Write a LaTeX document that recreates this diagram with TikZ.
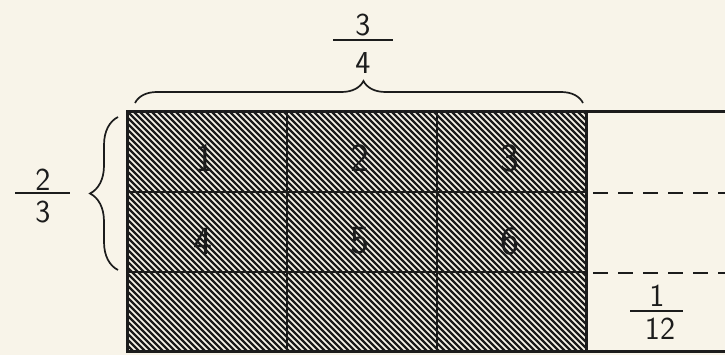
\documentclass[tikz,border=0pt]{standalone}
\usetikzlibrary{decorations.pathreplacing,positioning}
\definecolor{paper}{RGB}{248,244,233}
\definecolor{ink}{RGB}{28,28,28}
\tikzset{
  frame/.style={line width=3pt,ink},
  gridline/.style={line width=1.5pt,ink},
  hatch/.style={line width=2.2pt,ink},
  cutline/.style={line width=2pt,ink,dash pattern=on 15pt off 10pt},
  fracbar/.style={line width=2pt,ink},
  bracket/.style={decorate,line width=1.7pt,ink},
  cellnum/.style={font=\sffamily\fontsize{40}{44}\selectfont,text=ink,inner sep=0pt},
  fraclab/.style={font=\sffamily\fontsize{32}{36}\selectfont,text=ink,inner sep=0pt}
}

\begin{document}
\begin{tikzpicture}[x=1pt,y=-1pt]
  \useasboundingbox[fill=paper] (0,0) rectangle (725,355);
  % shaded part, 3 x 3 cells
  \coordinate (nw) at (127,112);
  \coordinate (se) at (586,351);
  \begin{scope}
    \clip (nw) rectangle (se);
    \foreach \c in {-130,-124,...,580}
      \draw[hatch] (\c,100) -- ++(260,260);
  \end{scope}
  \foreach \x in {287,437} \draw[gridline] (\x,112) -- (\x,351);
  \foreach \y in {192,272} \draw[gridline] (127,\y) -- (586,\y);
  \draw[frame] (725,112) -- (nw) -- (127,351) -- (725,351);
  \draw[frame] (586,112) -- (se);
  % the twelfths
  \draw[cutline] (593,193) -- (725,193);
  \draw[cutline] (593,273) -- (725,273);
  % numbers in the cells
  \foreach \n/\x/\y in {1/205/158,2/360/158,3/510/158,4/203/241,5/360/241,6/510/241}
    \node[cellnum] (cell\n) at (\x,\y) {\n};
  % braces and fractions
  \draw[bracket,decoration={brace,amplitude=22pt,aspect=0.51}] (135,103) -- (583,103);
  \draw[bracket,decoration={brace,amplitude=28pt}] (118,270) -- (118,117);
  \node[fraclab] (wnum) at (363,25) {3};
  \node[fraclab] (wden) at (363,63) {4};
  \draw[fracbar] (333,40) -- (393,40);
  \node[fraclab] (hnum) at (43,180) {2};
  \node[fraclab] (hden) at (43,212) {3};
  \draw[fracbar] (15,193) -- (70,193);
  \node[fraclab] (pnum) at (657,296) {1};
  \node[fraclab] (pden) at (660,329) {12};
  \draw[fracbar] (630,311) -- (683,311);
\end{tikzpicture}
\end{document}
